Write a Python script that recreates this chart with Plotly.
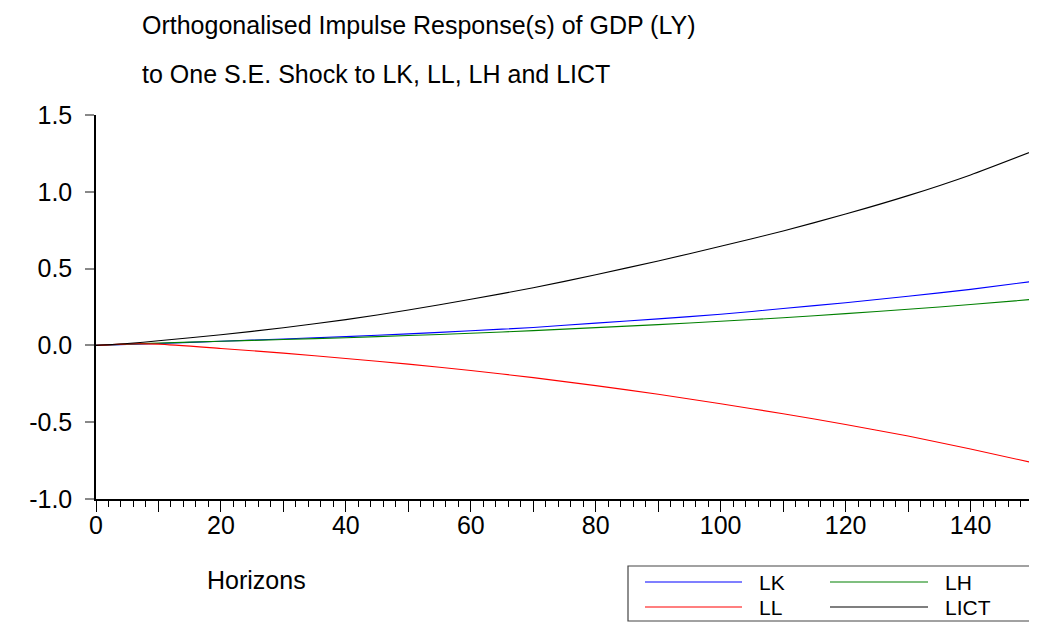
import plotly.graph_objects as go

# ---- data ----
horizons = [0, 5, 10, 20, 30, 40, 50, 60, 70, 80, 90, 100, 110, 120, 130, 140, 150]
lk   = [0, 0.006, 0.012, 0.027, 0.042, 0.057, 0.075, 0.095, 0.117, 0.145, 0.173, 0.203, 0.240, 0.278, 0.320, 0.365, 0.417]
ll   = [0, 0.010, 0.008, -0.020, -0.050, -0.085, -0.122, -0.163, -0.210, -0.262, -0.318, -0.380, -0.445, -0.515, -0.590, -0.675, -0.764]
lh   = [0, 0.008, 0.015, 0.027, 0.038, 0.050, 0.064, 0.079, 0.096, 0.116, 0.135, 0.157, 0.180, 0.207, 0.235, 0.266, 0.300]
lict = [0, 0.012, 0.030, 0.069, 0.115, 0.168, 0.230, 0.300, 0.375, 0.460, 0.550, 0.645, 0.745, 0.855, 0.975, 1.110, 1.265]

series_names = ["LK", "LH", "LL", "LICT"]
series_vals = [lk, lh, ll, lict]
series_colors = ["#0000ff", "#008000", "#ff0000", "#000000"]

x_tickvals = list(range(0, 151, 10))
x_ticktext = [str(v) if (v % 20 == 0 and v <= 140) else "" for v in x_tickvals]
y_tickvals = [-1.0, -0.5, 0.0, 0.5, 1.0, 1.5]
y_ticktext = ["-1.0", "-0.5", "0.0", "0.5", "1.0", "1.5"]

title_lines = ["Orthogonalised Impulse Response(s) of GDP (LY)",
               "to One S.E. Shock to LK, LL, LH and LICT"]
x_label = "Horizons"

# ---- layout geometry (pixels of the 1037x624 window) ----
OFF = 8                      # page body margin of the browser
WIN_W, WIN_H = 1037, 624
FIG_W, FIG_H = WIN_W - OFF, WIN_H - OFF
L, R, T, B = 96, 1033, 115, 499
FONT = "Liberation Sans, Arial, sans-serif"

def px(x):
    return (x - L) / (R - L)

def py(y):
    return (B - y) / (B - T)

fig = go.Figure()
for name, vals, col in zip(series_names, series_vals, series_colors):
    fig.add_trace(go.Scatter(x=horizons, y=vals, name=name, mode="lines",
                             line=dict(color=col, width=1.1, shape="spline", smoothing=0.6),
                             showlegend=False))

annotations = []
for i, line in enumerate(title_lines):
    annotations.append(dict(text=line, xref="paper", yref="paper",
                            x=px(140), y=py(25 + 49 * i), xanchor="left", yanchor="middle",
                            showarrow=False, font=dict(family=FONT, size=25, color="black")))
annotations.append(dict(text=x_label, xref="paper", yref="paper", x=px(205), y=py(580),
                        xanchor="left", yanchor="middle", showarrow=False,
                        font=dict(family=FONT, size=25, color="black")))

shapes = [dict(type="rect", xref="paper", yref="paper", x0=px(628), x1=px(1033),
               y0=py(621), y1=py(566), line=dict(color="#444444", width=1.2))]
leg_pos = [(645, 742, 757, 582), (830, 928, 943, 582), (645, 742, 757, 607), (830, 928, 943, 607)]
for (x0, x1, xt, yy), name, col in zip(leg_pos, series_names, series_colors):
    shapes.append(dict(type="line", xref="paper", yref="paper", x0=px(x0), x1=px(x1),
                       y0=py(yy), y1=py(yy), line=dict(color=col, width=1.1)))
    annotations.append(dict(text=name, xref="paper", yref="paper", x=px(xt), y=py(yy),
                            xanchor="left", yanchor="middle", showarrow=False,
                            font=dict(family=FONT, size=21, color="black")))

fig.update_layout(
    width=FIG_W, height=FIG_H,
    margin=dict(l=L - OFF, r=WIN_W - R, t=T - OFF, b=WIN_H - B, pad=0),
    paper_bgcolor="white", plot_bgcolor="white",
    showlegend=False,
    annotations=annotations, shapes=shapes,
    font=dict(family=FONT, color="black"),
)
fig.update_xaxes(range=[0, 150], showgrid=False, zeroline=False,
                 showline=True, linecolor="black", linewidth=1.5,
                 tickmode="array", tickvals=x_tickvals, ticktext=x_ticktext,
                 ticks="outside", ticklen=11, tickcolor="black", tickwidth=1,
                 ticklabelstandoff=-8,
                 minor=dict(dtick=2, ticks="outside", ticklen=6, tickcolor="black", tickwidth=1),
                 tickfont=dict(family=FONT, size=25, color="black"))
fig.update_yaxes(range=[-1.0, 1.5], showgrid=False, zeroline=False,
                 showline=True, linecolor="black", linewidth=1.5,
                 tickmode="array", tickvals=y_tickvals, ticktext=y_ticktext,
                 ticks="outside", ticklen=9, tickcolor="#888888", tickwidth=1.5,
                 ticklabelstandoff=8,
                 tickfont=dict(family=FONT, size=25, color="black"))

fig.write_html("out.html")
